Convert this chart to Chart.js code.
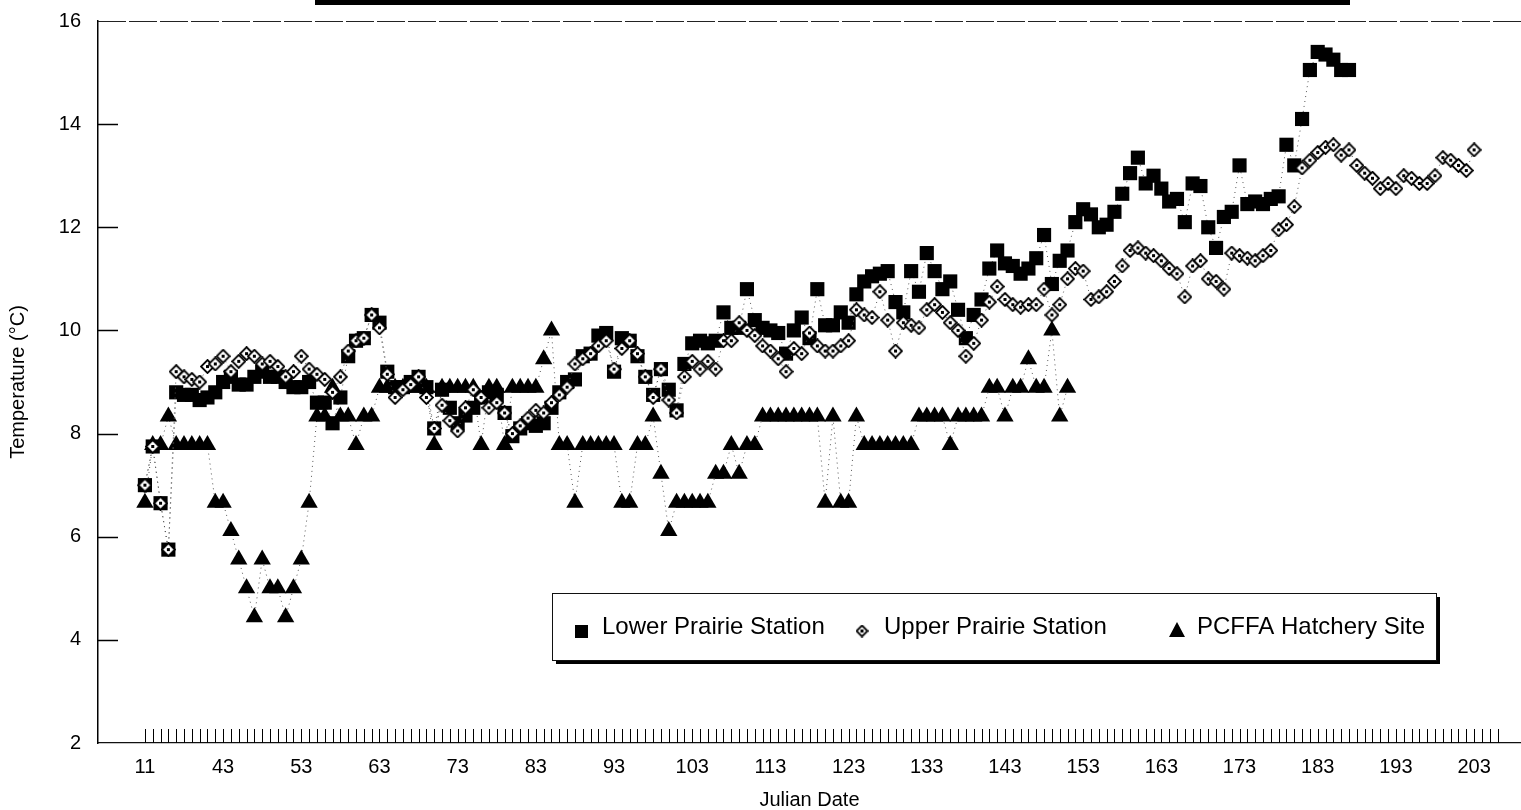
<!DOCTYPE html>
<html>
<head>
<meta charset="utf-8">
<title>Temperatura - Julian Date</title>
<script src="https://cdn.jsdelivr.net/npm/chart.js@4.4.1/dist/chart.umd.min.js"></script>
<style>
    html, body { margin: 0; padding: 0; background: #fff; overflow: hidden; }
    #wrap { width: 1521px; height: 810px; }
    #tempChart { display: block; }
</style>
</head>
<body>
<div id="wrap"><canvas id="tempChart" width="1521" height="810"></canvas></div>
<script>
// Fechas julianas (una categoria por dia de muestreo)
const julianDates = [
    11,
    34, 35, 36, 37, 38, 39, 40, 41, 42, 43,
    44, 45, 46, 47, 48, 49, 50, 51, 52, 53,
    54, 55, 56, 57, 58, 59, 60, 61, 62, 63,
    64, 65, 66, 67, 68, 69, 70, 71, 72, 73,
    74, 75, 76, 77, 78, 79, 80, 81, 82, 83,
    84, 85, 86, 87, 88, 89, 90, 91, 92, 93,
    94, 95, 96, 97, 98, 99, 100, 101, 102, 103,
    104, 105, 106, 107, 108, 109, 110, 111, 112, 113,
    114, 115, 116, 117, 118, 119, 120, 121, 122, 123,
    124, 125, 126, 127, 128, 129, 130, 131, 132, 133,
    134, 135, 136, 137, 138, 139, 140, 141, 142, 143,
    144, 145, 146, 147, 148, 149, 150, 151, 152, 153,
    154, 155, 156, 157, 158, 159, 160, 161, 162, 163,
    164, 165, 166, 167, 168, 169, 170, 171, 172, 173,
    174, 175, 176, 177, 178, 179, 180, 181, 182, 183,
    184, 185, 186, 187, 188, 189, 190, 191, 192, 193,
    194, 195, 196, 197, 198, 199, 200, 201, 202, 203,
    204, 205, 206
];

// Temperaturas (°C), en el mismo orden que julianDates
const lowerPrairie = [
    7.0, 7.75, 6.65, 5.75, 8.8, 8.75, 8.75, 8.65, 8.7, 8.8,
    9.0, 9.1, 8.95, 8.95, 9.1, 9.2, 9.1, 9.1, 9.0, 8.9,
    8.9, 9.0, 8.6, 8.6, 8.2, 8.7, 9.5, 9.8, 9.85, 10.3,
    10.15, 9.2, 8.9, 8.9, 9.0, 9.1, 8.9, 8.1, 8.85, 8.5,
    8.2, 8.35, 8.5, 8.7, 8.8, 8.75, 8.4, 7.95, 8.1, 8.2,
    8.15, 8.2, 8.5, 8.8, 9.0, 9.05, 9.5, 9.55, 9.9, 9.95,
    9.2, 9.85, 9.8, 9.5, 9.1, 8.75, 9.25, 8.85, 8.45, 9.35,
    9.75, 9.8, 9.75, 9.8, 10.35, 10.05, 10.05, 10.8, 10.2, 10.05,
    10.0, 9.95, 9.55, 10.0, 10.25, 9.85, 10.8, 10.1, 10.1, 10.35,
    10.15, 10.7, 10.95, 11.05, 11.1, 11.15, 10.55, 10.35, 11.15, 10.75,
    11.5, 11.15, 10.8, 10.95, 10.4, 9.85, 10.3, 10.6, 11.2, 11.55,
    11.3, 11.25, 11.1, 11.2, 11.4, 11.85, 10.9, 11.35, 11.55, 12.1,
    12.35, 12.25, 12.0, 12.05, 12.3, 12.65, 13.05, 13.35, 12.85, 13.0,
    12.75, 12.5, 12.55, 12.1, 12.85, 12.8, 12.0, 11.6, 12.2, 12.3,
    13.2, 12.45, 12.5, 12.45, 12.55, 12.6, 13.6, 13.2, 14.1, 15.05,
    15.4, 15.35, 15.25, 15.05, 15.05
];

const upperPrairie = [
    7.0, 7.75, 6.65, 5.75, 9.2, 9.1, 9.05, 9.0, 9.3, 9.35,
    9.5, 9.2, 9.4, 9.55, 9.5, 9.35, 9.4, 9.3, 9.1, 9.2,
    9.5, 9.25, 9.15, 9.05, 8.8, 9.1, 9.6, 9.8, 9.85, 10.3,
    10.05, 9.15, 8.7, 8.85, 8.95, 9.1, 8.7, 8.1, 8.55, 8.25,
    8.05, 8.5, 8.85, 8.7, 8.5, 8.6, 8.4, 8.0, 8.15, 8.3,
    8.45, 8.4, 8.6, 8.75, 8.9, 9.35, 9.45, 9.55, 9.7, 9.8,
    9.25, 9.65, 9.8, 9.55, 9.1, 8.7, 9.25, 8.65, 8.4, 9.1,
    9.4, 9.25, 9.4, 9.25, 9.8, 9.8, 10.15, 10.0, 9.9, 9.7,
    9.6, 9.45, 9.2, 9.65, 9.55, 9.95, 9.7, 9.6, 9.6, 9.7,
    9.8, 10.4, 10.3, 10.25, 10.75, 10.2, 9.6, 10.15, 10.1, 10.05,
    10.4, 10.5, 10.35, 10.15, 10.0, 9.5, 9.75, 10.2, 10.55, 10.85,
    10.6, 10.5, 10.45, 10.5, 10.5, 10.8, 10.3, 10.5, 11.0, 11.2,
    11.15, 10.6, 10.65, 10.75, 10.95, 11.25, 11.55, 11.6, 11.5, 11.45,
    11.35, 11.2, 11.1, 10.65, 11.25, 11.35, 11.0, 10.95, 10.8, 11.5,
    11.45, 11.4, 11.35, 11.45, 11.55, 11.95, 12.05, 12.4, 13.15, 13.3,
    13.45, 13.55, 13.6, 13.4, 13.5, 13.2, 13.05, 12.95, 12.75, 12.85,
    12.75, 13.0, 12.95, 12.85, 12.85, 13.0, 13.35, 13.3, 13.2, 13.1,
    13.5
];

const hatcherySite = [
    6.66, 7.78, 7.78, 8.33, 7.78, 7.78, 7.78, 7.78, 7.78, 6.66,
    6.66, 6.11, 5.56, 5.0, 4.44, 5.56, 5.0, 5.0, 4.44, 5.0,
    5.56, 6.66, 8.33, 8.33, 8.89, 8.33, 8.33, 7.78, 8.33, 8.33,
    8.89, 8.89, 8.89, 8.89, 8.89, 8.89, 8.89, 7.78, 8.89, 8.89,
    8.89, 8.89, 8.89, 7.78, 8.89, 8.89, 7.78, 8.89, 8.89, 8.89,
    8.89, 9.44, 10.0, 7.78, 7.78, 6.66, 7.78, 7.78, 7.78, 7.78,
    7.78, 6.66, 6.66, 7.78, 7.78, 8.33, 7.22, 6.11, 6.66, 6.66,
    6.66, 6.66, 6.66, 7.22, 7.22, 7.78, 7.22, 7.78, 7.78, 8.33,
    8.33, 8.33, 8.33, 8.33, 8.33, 8.33, 8.33, 6.66, 8.33, 6.66,
    6.66, 8.33, 7.78, 7.78, 7.78, 7.78, 7.78, 7.78, 7.78, 8.33,
    8.33, 8.33, 8.33, 7.78, 8.33, 8.33, 8.33, 8.33, 8.89, 8.89,
    8.33, 8.89, 8.89, 9.44, 8.89, 8.89, 10.0, 8.33, 8.89
];

const tempTicks = [2, 4, 6, 8, 10, 12, 14, 16];

const seriesNames = ['Lower Prairie Station', 'Upper Prairie Station', 'PCFFA Hatchery Site'];

// Marcador del rombo (blanco con borde y punto central)
function makeDiamond(size) {
    const c = document.createElement('canvas');
    c.width = size;
    c.height = size;
    const g = c.getContext('2d');
    const h = size / 2;
    g.beginPath();
    g.moveTo(h, 1);
    g.lineTo(size - 1, h);
    g.lineTo(h, size - 1);
    g.lineTo(1, h);
    g.closePath();
    g.fillStyle = '#fff';
    g.fill();
    g.lineWidth = 1.8;
    g.strokeStyle = '#000';
    g.stroke();
    g.fillStyle = '#000';
    g.fillRect(h - 1.5, h - 1.5, 3, 3);
    return c;
}

const diamondMark = makeDiamond(15);
const diamondLegend = makeDiamond(13);

function toPoints(values) {
    return values.map((v, i) => ({ x: i, y: v }));
}

const PLOT_LEFT = 98;
const X_AXIS_HEIGHT = 67;

// Marco superior, marcas interiores de los ejes y barra superior
const framePlugin = {
    id: 'framePlugin',
    beforeDatasetsDraw(chart) {
        const { ctx, chartArea, scales } = chart;
        ctx.save();

        // borde superior punteado
        ctx.strokeStyle = '#222';
        ctx.lineWidth = 1.2;
        ctx.setLineDash([28, 3]);
        ctx.beginPath();
        ctx.moveTo(chartArea.left, chartArea.top + 0.5);
        ctx.lineTo(chartArea.right, chartArea.top + 0.5);
        ctx.stroke();
        ctx.setLineDash([]);

        // marcas pequeñas en cada fecha
        ctx.strokeStyle = '#000';
        ctx.lineWidth = 1;
        julianDates.forEach((d, i) => {
            const x = Math.round(scales.x.getPixelForValue(i)) + 0.5;
            ctx.beginPath();
            ctx.moveTo(x, chartArea.bottom);
            ctx.lineTo(x, chartArea.bottom - 14);
            ctx.stroke();
        });

        // marcas del eje Y hacia dentro
        ctx.lineWidth = 1.5;
        tempTicks.slice(1, -1).forEach(t => {
            const y = Math.round(scales.y.getPixelForValue(t)) + 0.5;
            ctx.beginPath();
            ctx.moveTo(chartArea.left, y);
            ctx.lineTo(chartArea.left + 20, y);
            ctx.stroke();
        });

        // borde inferior del recuadro del titulo
        ctx.fillStyle = '#000';
        ctx.fillRect(315, 0, 1035, 5);
        ctx.restore();
    }
};

// Leyenda en recuadro con sombra
const legendPlugin = {
    id: 'legendPlugin',
    afterDatasetsDraw(chart) {
        const ctx = chart.ctx;
        const box = { x: 552, y: 593, w: 884, h: 67 };
        ctx.save();
        ctx.fillStyle = '#000';
        ctx.fillRect(box.x + 4, box.y + 4, box.w, box.h);
        ctx.fillStyle = '#fff';
        ctx.fillRect(box.x, box.y, box.w, box.h);
        ctx.strokeStyle = '#111';
        ctx.lineWidth = 1;
        ctx.strokeRect(box.x + 0.5, box.y + 0.5, box.w, box.h);

        const my = 631;
        // cuadrado
        ctx.fillStyle = '#000';
        ctx.fillRect(575, my - 6, 13, 13);
        // rombo
        ctx.drawImage(diamondLegend, 862 - 6.5, my - 6.5);
        // triangulo
        ctx.beginPath();
        ctx.moveTo(1177, my - 9);
        ctx.lineTo(1185, my + 6);
        ctx.lineTo(1169, my + 6);
        ctx.closePath();
        ctx.fill();

        ctx.font = "24px 'Liberation Sans', Arial, sans-serif";
        ctx.textBaseline = 'alphabetic';
        ctx.fillStyle = '#000';
        ctx.fillText(seriesNames[0], 602, 634);
        ctx.fillText(seriesNames[1], 884, 634);
        ctx.fillText(seriesNames[2], 1197, 634);
        ctx.restore();
    }
};

Chart.defaults.font.family = "'Liberation Sans', Arial, sans-serif";
Chart.defaults.font.size = 20;
Chart.defaults.color = '#000';

const dotted = { showLine: true, borderWidth: 1, borderDash: [1, 4], borderColor: '#555' };

new Chart(document.getElementById('tempChart'), {
    type: 'line',
    data: {
        datasets: [
            {
                label: seriesNames[1],
                data: toPoints(upperPrairie),
                pointStyle: diamondMark,
                pointRadius: 7,
                order: 0,
                ...dotted
            },
            {
                label: seriesNames[0],
                data: toPoints(lowerPrairie),
                pointStyle: 'rect',
                pointRadius: 10,
                pointBackgroundColor: '#000',
                pointBorderColor: '#000',
                pointBorderWidth: 0,
                order: 1,
                ...dotted
            },
            {
                label: seriesNames[2],
                data: toPoints(hatcherySite),
                pointStyle: 'triangle',
                pointRadius: 10,
                pointBackgroundColor: '#000',
                pointBorderColor: '#000',
                pointBorderWidth: 0,
                order: 2,
                ...dotted
            }
        ]
    },
    options: {
        responsive: false,
        animation: false,
        events: [],
        layout: {
            autoPadding: false,
            padding: { top: 21, left: 0, right: 0, bottom: 0 }
        },
        plugins: {
            legend: { display: false },
            tooltip: { enabled: false }
        },
        scales: {
            x: {
                type: 'linear',
                min: -6,
                max: 176,
                grid: { display: false, drawTicks: false },
                border: { display: true, color: '#111', width: 1.2, dash: [10, 4] },
                ticks: {
                    stepSize: 10,
                    includeBounds: false,
                    autoSkip: false,
                    maxRotation: 0,
                    padding: 12,
                    callback: v => (v <= 170 ? julianDates[v] : '')
                },
                title: {
                    display: true,
                    text: 'Julian Date',
                    font: { size: 20, lineHeight: 1 },
                    padding: { top: 0, bottom: 0 }
                },
                afterFit(scale) {
                    scale.height = X_AXIS_HEIGHT;
                    scale.paddingLeft = 0;
                    scale.paddingRight = 0;
                }
            },
            y: {
                min: tempTicks[0],
                max: tempTicks[tempTicks.length - 1],
                grid: { display: false, drawTicks: false },
                border: { display: true, color: '#000', width: 1.5 },
                afterBuildTicks(scale) {
                    scale.ticks = tempTicks.map(v => ({ value: v }));
                },
                ticks: { padding: 17 },
                title: {
                    display: true,
                    text: 'Temperature (°C)',
                    font: { size: 20 },
                    padding: { top: 6, bottom: 0 }
                },
                afterFit(scale) {
                    scale.width = PLOT_LEFT;
                    scale.paddingTop = 0;
                    scale.paddingBottom = 0;
                }
            }
        }
    },
    plugins: [framePlugin, legendPlugin]
});
</script>
</body>
</html>
